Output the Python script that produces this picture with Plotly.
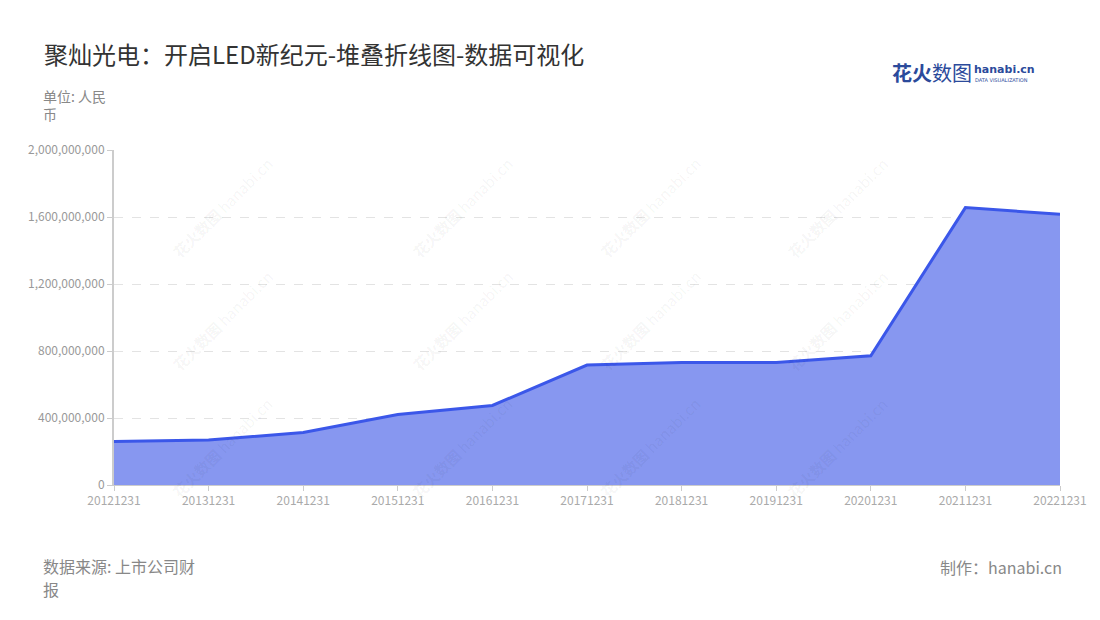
import plotly.graph_objects as go

dates = ["20121231", "20131231", "20141231", "20151231", "20161231", "20171231",
         "20181231", "20191231", "20201231", "20211231", "20221231"]
values = [260e6, 269e6, 313e6, 421e6, 475e6, 716e6, 731e6, 732e6, 772e6, 1656e6, 1616e6]
y_ticks = [0, 400e6, 800e6, 1200e6, 1600e6, 2000e6]
y_tick_labels = ["0", "400,000,000", "800,000,000", "1,200,000,000", "1,600,000,000", "2,000,000,000"]

FONT = "Noto Sans CJK SC"

fig = go.Figure()
fig.add_trace(go.Scatter(
    x=dates, y=values, mode="lines",
    line=dict(color="rgb(59,87,233)", width=3),
    fill="tozeroy", fillcolor="rgba(135,151,240,1)",
    hoverinfo="x+y",
))

annotations = []
# watermarks
for wx in [165, 405, 650, 895]:
    for wy in [150, 320, 505]:
        annotations.append(dict(
            xref="paper", yref="paper", x=(wx - 114) / 946, y=(485 - wy) / 335,
            text="<b>花火数图</b> hanabi.cn", showarrow=False, textangle=-45,
            font=dict(family=FONT, size=15, color="rgba(0,0,0,0.05)"),
        ))

LX = (42 - 114) / 946


def py(v):
    return (485 - v) / 335


# title & notes
annotations += [
    dict(xref="paper", yref="paper", x=LX, y=py(53), xanchor="left", yanchor="middle",
         text="聚灿光电：开启LED新纪元-堆叠折线图-数据可视化", showarrow=False,
         font=dict(family=FONT, size=24, color="#333333")),
    dict(xref="paper", yref="paper", x=LX, y=py(96), xanchor="left", yanchor="middle",
         text="单位: 人民", showarrow=False, align="left", borderpad=0,
         font=dict(family=FONT, size=14, color="#888888")),
    dict(xref="paper", yref="paper", x=LX, y=py(114), xanchor="left", yanchor="middle",
         text="币", showarrow=False, align="left", borderpad=0,
         font=dict(family=FONT, size=14, color="#888888")),
    dict(xref="paper", yref="paper", x=LX, y=py(566), xanchor="left", yanchor="middle",
         text="数据来源: 上市公司财", showarrow=False, align="left", borderpad=0,
         font=dict(family=FONT, size=16, color="#888888")),
    dict(xref="paper", yref="paper", x=LX, y=py(589), xanchor="left", yanchor="middle",
         text="报", showarrow=False, align="left", borderpad=0,
         font=dict(family=FONT, size=16, color="#888888")),
    dict(xref="paper", yref="paper", x=(1064 - 114) / 946, y=py(567), xanchor="right", yanchor="middle",
         text="制作：hanabi.cn", showarrow=False,
         font=dict(family=FONT, size=16, color="#888888")),
    # logo
    dict(xref="paper", yref="paper", x=(890 - 114) / 946, y=py(72), xanchor="left", yanchor="middle",
         text="<b>花火</b>数图", showarrow=False,
         font=dict(family=FONT, size=20, color="#2b4a9b")),
    dict(xref="paper", yref="paper", x=(973 - 114) / 946, y=py(69), xanchor="left", yanchor="middle",
         text="<b>hanabi.cn</b>", showarrow=False, borderpad=0,
         font=dict(family="DejaVu Sans", size=11, color="#2b4a9b")),
    dict(xref="paper", yref="paper", x=(974 - 114) / 946, y=py(80), xanchor="left", yanchor="middle",
         text="DATA VISUALIZATION", showarrow=False, borderpad=0,
         font=dict(family="DejaVu Sans", size=5, color="#2b4a9b")),
]

fig.update_layout(
    width=1100, height=620,
    margin=dict(l=106, r=48, t=142, b=143),
    paper_bgcolor="white", plot_bgcolor="white",
    showlegend=False,
    font=dict(family=FONT),
    annotations=annotations,
    xaxis=dict(
        type="category", range=[0, 10], showgrid=False,
        showline=True, linecolor="#cccccc", linewidth=1,
        ticks="outside", ticklen=5, tickcolor="#cccccc",
        tickfont=dict(family=FONT, size=12, color="#aaaaaa"),
        fixedrange=True,
    ),
    yaxis=dict(
        range=[0, 2000e6], tickvals=y_ticks, ticktext=y_tick_labels,
        showgrid=True, gridcolor="#e3e3e3", griddash="dash", gridwidth=1,
        showline=True, linecolor="#cccccc", linewidth=2,
        ticks="outside", ticklen=5, tickcolor="#cccccc",
        tickfont=dict(family=FONT, size=12, color="#999999"),
        zeroline=False, fixedrange=True,
    ),
)

fig.write_html("out.html")
